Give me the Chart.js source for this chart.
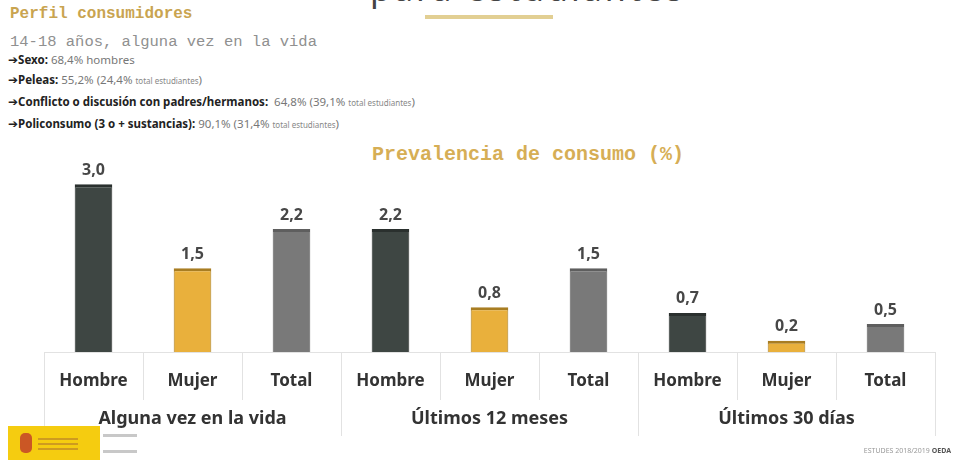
<!DOCTYPE html>
<html lang="es">
<head>
<meta charset="utf-8">
<title>Prevalencia de consumo</title>
<script src="https://cdn.jsdelivr.net/npm/chart.js@4.4.0/dist/chart.umd.min.js"></script>
<style>
  html, body { margin: 0; padding: 0; background: #fff; }
  body { width: 953px; height: 462px; position: relative; overflow: hidden; font-family: "Noto Sans", sans-serif; }
  .slide-title { position: absolute; top: -35px; left: 370px; width: 234px; text-align: center; font-size: 34px; color: #444; letter-spacing: 3px; white-space: nowrap; }
  .title-rule { position: absolute; top: 15px; left: 425px; width: 128px; height: 4px; background: #e2cf93; }
  .perfil { position: absolute; left: 10px; top: 5px; font-family: "Liberation Mono", monospace; font-weight: bold; font-size: 16px; color: #c9a450; }
  .edad { position: absolute; left: 10px; top: 33px; font-family: "Liberation Mono", monospace; font-size: 15.5px; color: #909090; }
  .item { position: absolute; left: 8px; font-size: 11.5px; color: #222; white-space: nowrap; }
  .item b { font-weight: bold; }
  .item b i { font-style: normal; font-family: "DejaVu Sans", sans-serif; font-size: 12px; }
  .item span { color: #777; }
  .item small { font-size: 8px; color: #888; }
  .chart-title { position: absolute; left: 372px; top: 143px; font-family: "Liberation Mono", monospace; font-weight: bold; font-size: 20px; color: #d6ae55; }
  #wrap { position: absolute; left: 0; top: 150px; width: 953px; height: 300px; }
  .logo { position: absolute; left: 8px; top: 426px; width: 92px; height: 34px; background: #f5cc10; }
  .logo i { position: absolute; left: 12px; top: 7px; width: 12px; height: 20px; background: #c0392b; border-radius: 5px; opacity: .8; }
  .logo em { position: absolute; left: 30px; height: 2px; width: 40px; background: #b47a2a; opacity: .6; }
  .logo-side { position: absolute; left: 103px; height: 3px; width: 34px; background: #c8c8c8; }
  .footer { position: absolute; right: 2px; top: 446px; font-size: 7px; color: #999; }
  .footer b { color: #555; }
</style>
</head>
<body>
<div class="slide-title">para estudiantes</div>
<div class="title-rule"></div>
<div class="perfil">Perfil consumidores</div>
<div class="edad">14-18 años, alguna vez en la vida</div>
<div class="item" style="top:52px"><b><i>➔</i>Sexo:</b> <span>68,4% hombres</span></div>
<div class="item" style="top:72px"><b><i>➔</i>Peleas:</b> <span>55,2% (24,4% <small>total estudiantes</small>)</span></div>
<div class="item" style="top:94px"><b><i>➔</i>Conflicto o discusión con padres/hermanos:</b> <span>&nbsp;64,8% (39,1% <small>total estudiantes</small>)</span></div>
<div class="item" style="top:116px"><b><i>➔</i>Policonsumo (3 o + sustancias):</b> <span>90,1% (31,4% <small>total estudiantes</small>)</span></div>
<div class="chart-title">Prevalencia de consumo (%)</div>
<div id="wrap"><canvas id="prevalencia"></canvas></div>
<div class="logo"><i></i><em style="top:12px"></em><em style="top:17px"></em><em style="top:22px"></em></div>
<div class="logo-side" style="top:434px"></div>
<div class="logo-side" style="top:450px"></div>
<div class="footer">ESTUDES 2018/2019 <b>OEDA</b></div>

<script>
// prevalencia por sexo y periodo
const categories = ['Hombre', 'Mujer', 'Total', 'Hombre', 'Mujer', 'Total', 'Hombre', 'Mujer', 'Total'];
const groups = ['Alguna vez en la vida', 'Últimos 12 meses', 'Últimos 30 días'];
const prevalence = [3.0, 1.5, 2.2, 2.2, 0.8, 1.5, 0.7, 0.2, 0.5];

const fill = { Hombre: '#3e4643', Mujer: '#e9b03c', Total: '#797979' };
const edge = { Hombre: '#2a302e', Mujer: '#a87d22', Total: '#5e5e5e' };

const gridColor = '#e2e2e2';

// numbers over each bar, comma decimal
const barValues = {
  id: 'barValues',
  afterDatasetsDraw(chart) {
    const c = chart.ctx;
    const meta = chart.getDatasetMeta(0);
    c.save();
    c.font = 'bold 16px "Noto Sans"';
    c.fillStyle = '#474747';
    c.textAlign = 'center';
    c.textBaseline = 'bottom';
    meta.data.forEach((bar, i) => {
      c.fillText(prevalence[i].toFixed(1).replace('.', ','), bar.x, bar.y - 6);
    });
    c.restore();
  }
};

const ctx = document.getElementById('prevalencia');

new Chart(ctx, {
  type: 'bar',
  data: {
    labels: categories,
    datasets: [{
      data: prevalence,
      backgroundColor: categories.map(c => fill[c]),
      borderColor: categories.map(c => edge[c]),
      borderWidth: { top: 3, left: 1, right: 1, bottom: 0 },
      borderSkipped: 'bottom',
      barPercentage: 0.38,
      categoryPercentage: 1
    }]
  },
  options: {
    responsive: true,
    maintainAspectRatio: false,
    animation: false,
    layout: { padding: { left: 44, right: 18, top: 12, bottom: 10 } },
    plugins: {
      legend: { display: false },
      tooltip: { enabled: false }
    },
    scales: {
      y: { display: false, min: 0, max: 3.4 },
      x: {
        type: 'category',
        offset: true,
        grid: { offset: true, drawOnChartArea: false, tickLength: 48, color: gridColor },
        border: { display: true, color: gridColor },
        ticks: { color: '#333', font: { family: 'Noto Sans', size: 17, weight: 'bold' }, padding: -29, maxRotation: 0 },
        afterFit(s) { s.height = 48; }
      },
      x2: {
        type: 'category',
        position: 'bottom',
        labels: groups,
        offset: true,
        grid: { offset: true, drawOnChartArea: false, tickLength: 36, color: gridColor },
        border: { display: false },
        ticks: { color: '#333', font: { family: 'Noto Sans', size: 18, weight: 'bold' }, padding: -28, maxRotation: 0 },
        afterFit(s) { s.height = 40; }
      }
    }
  },
  plugins: [barValues]
});
</script>
</body>
</html>
